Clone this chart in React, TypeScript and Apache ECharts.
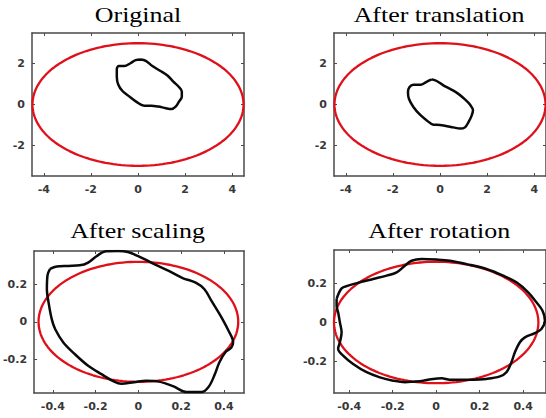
import React, { useEffect, useRef } from 'react';
import * as echarts from 'echarts';

// ---- texts ----
const TITLES = ['Original', 'After translation', 'After scaling', 'After rotation'];

// ---- axis ranges (per panel) ----
const X_MIN = [-4.5, -4.5, -0.488, -0.47];
const X_MAX = [4.5, 4.5, 0.494, 0.505];
const Y_MIN = [-3.5, -3.5, -0.382, -0.36];
const Y_MAX = [3.5, 3.5, 0.38, 0.37];

// ---- tick labels ----
const X_TICKS_TOP_ROW = [-4, -2, 0, 2, 4];
const Y_TICKS_TOP_ROW = [-2, 0, 2];
const X_TICKS_BOTTOM_ROW = [-0.4, -0.2, 0, 0.2, 0.4];
const Y_TICKS_BOTTOM_ROW = [-0.2, 0, 0.2];

// ---- red ellipse semi-axes (per panel) ----
const ELLIPSE_A = [4.48, 4.48, 0.467, 0.47];
const ELLIPSE_B = [3.0, 3.0, 0.322, 0.31];

// ---- black contours ----
const ORIGINAL_SHAPE: number[][] = [
  [0.11, 2.2], [0.33, 2.14], [0.61, 1.88], [0.96, 1.64], [1.25, 1.42], [1.5, 1.12],
  [1.72, 0.88], [1.86, 0.64], [1.86, 0.38], [1.74, 0.14], [1.6, -0.1], [1.42, -0.22],
  [1.18, -0.18], [0.86, -0.1], [0.56, -0.06], [0.26, -0.06], [-0.08, 0.14], [-0.38, 0.4],
  [-0.66, 0.66], [-0.84, 0.98], [-0.9, 1.36], [-0.9, 1.72], [-0.82, 1.88], [-0.58, 1.88],
  [-0.32, 2.02], [-0.1, 2.17], [0.11, 2.2],
];

const TRANSLATED_SHAPE: number[][] = [
  [-0.35, 1.23], [-0.14, 1.15], [0.14, 0.94], [0.5, 0.72], [0.78, 0.52], [1.06, 0.25],
  [1.27, 0.0], [1.4, -0.28], [1.34, -0.56], [1.22, -0.84], [1.06, -1.12], [0.85, -1.18],
  [0.57, -1.12], [0.21, -1.04], [0.0, -1.0], [-0.28, -0.99], [-0.56, -0.78], [-0.85, -0.5],
  [-1.13, -0.12], [-1.32, 0.28], [-1.36, 0.61], [-1.3, 0.85], [-1.13, 0.97], [-0.82, 0.97],
  [-0.59, 1.1], [-0.35, 1.23],
];

const SCALED_SHAPE: number[][] = [
  [-0.413, 0.284], [-0.382, 0.297], [-0.328, 0.3], [-0.274, 0.303], [-0.235, 0.318],
  [-0.196, 0.352], [-0.15, 0.379], [-0.096, 0.38], [-0.049, 0.375], [-0.001, 0.352],
  [0.036, 0.332], [0.082, 0.305], [0.142, 0.273], [0.207, 0.235], [0.268, 0.21],
  [0.309, 0.175], [0.342, 0.112], [0.384, 0.033], [0.421, -0.047], [0.443, -0.11],
  [0.435, -0.138], [0.407, -0.163], [0.379, -0.217], [0.356, -0.286], [0.328, -0.35],
  [0.295, -0.377], [0.226, -0.377], [0.162, -0.345], [0.096, -0.321], [0.036, -0.316],
  [-0.02, -0.324], [-0.08, -0.332], [-0.113, -0.321], [-0.173, -0.281], [-0.235, -0.236],
  [-0.297, -0.174], [-0.351, -0.111], [-0.389, -0.04], [-0.405, 0.013], [-0.42, 0.103],
  [-0.428, 0.174], [-0.425, 0.25], [-0.413, 0.284],
];

const ROTATED_SHAPE: number[][] = [
  [-0.458, 0.12], [-0.435, 0.174], [-0.405, 0.188], [-0.351, 0.205], [-0.29, 0.222],
  [-0.228, 0.239], [-0.182, 0.256], [-0.144, 0.29], [-0.113, 0.315], [-0.067, 0.324],
  [0.002, 0.321], [0.063, 0.315], [0.139, 0.298], [0.231, 0.273], [0.308, 0.239],
  [0.369, 0.205], [0.423, 0.154], [0.461, 0.103], [0.489, 0.06], [0.5, 0.009],
  [0.484, -0.033], [0.454, -0.054], [0.408, -0.076], [0.385, -0.101], [0.362, -0.152],
  [0.346, -0.203], [0.323, -0.254], [0.293, -0.275], [0.231, -0.288], [0.17, -0.292],
  [0.109, -0.292], [0.063, -0.292], [0.025, -0.285], [-0.014, -0.288], [-0.06, -0.297],
  [-0.106, -0.302], [-0.144, -0.305], [-0.198, -0.297], [-0.259, -0.28], [-0.32, -0.254],
  [-0.382, -0.212], [-0.428, -0.169], [-0.451, -0.135], [-0.443, -0.101], [-0.435, -0.05],
  [-0.443, 0.001], [-0.451, 0.052], [-0.458, 0.086], [-0.458, 0.12],
];

const SHAPES = [ORIGINAL_SHAPE, TRANSLATED_SHAPE, SCALED_SHAPE, ROTATED_SHAPE];

// ---- layout ----
const GRIDS = [
  { left: 32, top: 33, width: 212, height: 143 },
  { left: 334, top: 33, width: 212, height: 143 },
  { left: 32, top: 251, width: 212, height: 142 },
  { left: 334, top: 250, width: 212, height: 143 },
];
const TITLE_POS = [
  [138, 14.2],
  [439, 14.2],
  [137.5, 231],
  [439.2, 231],
];

const BOX = '#4a4a4a';
const RED = '#e0101a';
const LABEL_FONT = { color: '#383838', fontSize: 11, fontFamily: '"DejaVu Sans", sans-serif', fontWeight: 'bold' as const };

function ellipsePoints(a: number, b: number): number[][] {
  const pts: number[][] = [];
  const n = 160;
  for (let i = 0; i <= n; i++) {
    const t = (i / n) * Math.PI * 2;
    pts.push([a * Math.cos(t), b * Math.sin(t)]);
  }
  return pts;
}

function buildOption() {
  const xAxis: any[] = [];
  const yAxis: any[] = [];
  const series: any[] = [];
  for (let i = 0; i < 4; i++) {
    const xt = i < 2 ? X_TICKS_TOP_ROW : X_TICKS_BOTTOM_ROW;
    const yt = i < 2 ? Y_TICKS_TOP_ROW : Y_TICKS_BOTTOM_ROW;
    const common = {
      type: 'value',
      gridIndex: i,
      splitLine: { show: false },
      axisLine: { show: true, onZero: false, lineStyle: { color: BOX, width: 1.5 } },
    };
    xAxis.push({
      ...common,
      min: X_MIN[i],
      max: X_MAX[i],
      position: 'bottom',
      axisTick: { show: true, inside: true, length: 3, customValues: xt, lineStyle: { color: BOX, width: 1 } },
      axisLabel: { show: true, customValues: xt, margin: 8, ...LABEL_FONT },
    });
    xAxis.push({
      ...common,
      min: X_MIN[i],
      max: X_MAX[i],
      position: 'top',
      axisTick: { show: true, inside: true, length: 3, customValues: xt, lineStyle: { color: BOX, width: 1 } },
      axisLabel: { show: false },
    });
    yAxis.push({
      ...common,
      min: Y_MIN[i],
      max: Y_MAX[i],
      position: 'left',
      axisTick: { show: true, inside: true, length: 3, customValues: yt, lineStyle: { color: BOX, width: 1 } },
      axisLabel: { show: true, customValues: yt, margin: 7, ...LABEL_FONT },
    });
    yAxis.push({
      ...common,
      min: Y_MIN[i],
      max: Y_MAX[i],
      position: 'right',
      axisTick: { show: true, inside: true, length: 3, customValues: yt, lineStyle: { color: BOX, width: 1 } },
      axisLabel: { show: false },
    });
    series.push({
      type: 'line',
      xAxisIndex: 2 * i,
      yAxisIndex: 2 * i,
      data: ellipsePoints(ELLIPSE_A[i], ELLIPSE_B[i]),
      showSymbol: false,
      symbol: 'none',
      silent: true,
      lineStyle: { color: RED, width: 2.3 },
      z: 2,
    });
    series.push({
      type: 'line',
      xAxisIndex: 2 * i,
      yAxisIndex: 2 * i,
      data: SHAPES[i],
      showSymbol: false,
      symbol: 'none',
      smooth: 0.35,
      silent: true,
      lineStyle: { color: '#0a0a0a', width: 2.5 },
      z: 3,
    });
  }

  return {
    animation: false,
    backgroundColor: '#ffffff',
    grid: GRIDS.map((g) => ({ ...g, containLabel: false })),
    xAxis,
    yAxis,
    series,
    graphic: TITLES.map((t, i) => ({
      type: 'text',
      x: TITLE_POS[i][0],
      y: TITLE_POS[i][1],
      scaleX: 1.18,
      silent: true,
      style: {
        text: t,
        fontFamily: '"Liberation Serif", "Times New Roman", serif',
        fontSize: 22,
        fill: '#000000',
        align: 'center',
        verticalAlign: 'middle',
      },
    })),
  };
}

export default function App() {
  const ref = useRef<HTMLDivElement>(null);
  useEffect(() => {
    if (!ref.current) return;
    const chart = echarts.init(ref.current, undefined, { renderer: 'svg' });
    chart.setOption(buildOption() as any);
    return () => chart.dispose();
  }, []);
  return (
    <div
      ref={ref}
      style={{ position: 'absolute', left: 0, top: 0, width: 546, height: 418, background: '#fff' }}
    />
  );
}
